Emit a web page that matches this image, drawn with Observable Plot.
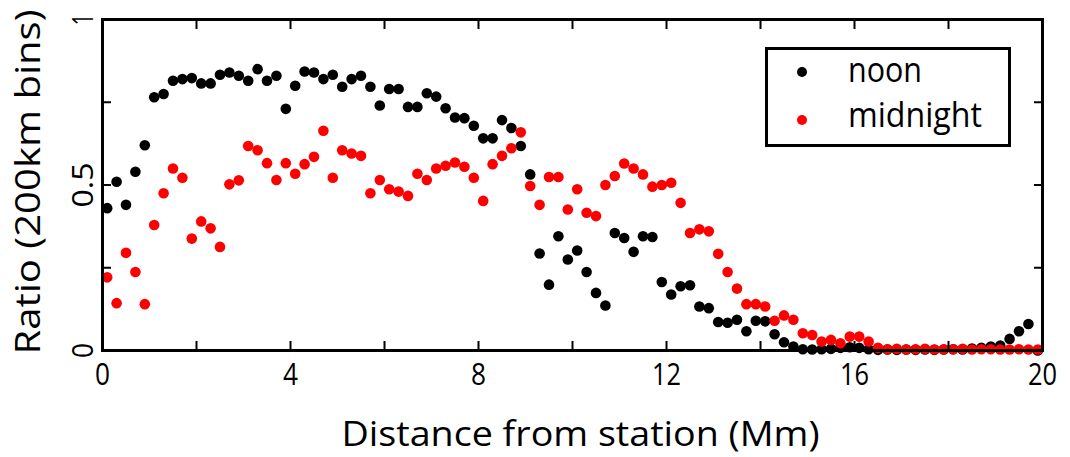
<!DOCTYPE html>
<html><head><meta charset="utf-8">
<script src="https://cdn.jsdelivr.net/npm/d3@7"></script>
<script src="https://cdn.jsdelivr.net/npm/@observablehq/plot@0.6"></script>
<style>
body{margin:0;background:#fff;}
#wrap{position:relative;width:1070px;height:457px;overflow:hidden;}
#legend{position:absolute;left:760px;top:42px;}
</style></head><body>
<div id="wrap"></div>
<script>
// bin centres (Mm), 200 km bins
const distanceMm = [
  0.1,0.3,0.5,0.7,0.9,1.1,1.3,1.5,1.7,1.9,
  2.1,2.3,2.5,2.7,2.9,3.1,3.3,3.5,3.7,3.9,
  4.1,4.3,4.5,4.7,4.9,5.1,5.3,5.5,5.7,5.9,
  6.1,6.3,6.5,6.7,6.9,7.1,7.3,7.5,7.7,7.9,
  8.1,8.3,8.5,8.7,8.9,9.1,9.3,9.5,9.7,9.9,
  10.1,10.3,10.5,10.7,10.9,11.1,11.3,11.5,11.7,11.9,
  12.1,12.3,12.5,12.7,12.9,13.1,13.3,13.5,13.7,13.9,
  14.1,14.3,14.5,14.7,14.9,15.1,15.3,15.5,15.7,15.9,
  16.1,16.3,16.5,16.7,16.9,17.1,17.3,17.5,17.7,17.9,
  18.1,18.3,18.5,18.7,18.9,19.1,19.3,19.5,19.7,19.9
];
const noonRatio = [
  0.43,0.51,0.44,0.54,0.62,0.765,0.775,0.815,0.82,0.823,
  0.807,0.807,0.833,0.84,0.83,0.815,0.85,0.815,0.83,0.73,
  0.80,0.843,0.84,0.82,0.833,0.797,0.82,0.83,0.797,0.74,
  0.79,0.79,0.736,0.736,0.777,0.767,0.732,0.704,0.702,0.679,
  0.641,0.641,0.696,0.672,0.618,0.532,0.293,0.199,0.345,0.275,
  0.302,0.237,0.174,0.136,0.355,0.34,0.298,0.345,0.343,0.207,
  0.169,0.194,0.197,0.133,0.128,0.086,0.084,0.093,0.058,0.09,
  0.088,0.049,0.025,0.012,0.004,0.003,0.004,0.005,0.008,0.01,
  0.008,0.004,0.002,0.003,0.002,0.003,0.002,0.003,0.002,0.003,
  0.004,0.003,0.006,0.008,0.012,0.015,0.035,0.058,0.08,0.0
];
const midnightRatio = [
  0.221,0.143,0.295,0.237,0.14,0.379,0.475,0.55,0.522,0.338,
  0.39,0.369,0.313,0.502,0.514,0.618,0.605,0.566,0.515,0.566,
  0.534,0.563,0.585,0.664,0.522,0.605,0.595,0.588,0.475,0.515,
  0.487,0.48,0.467,0.534,0.515,0.55,0.558,0.568,0.555,0.522,
  0.452,0.563,0.588,0.611,0.659,0.497,0.44,0.524,0.524,0.426,
  0.487,0.416,0.406,0.5,0.527,0.565,0.55,0.532,0.495,0.5,
  0.507,0.446,0.355,0.366,0.36,0.292,0.237,0.187,0.14,0.14,
  0.133,0.09,0.106,0.093,0.052,0.047,0.027,0.032,0.022,0.042,
  0.042,0.027,0.008,0.004,0.005,0.003,0.004,0.005,0.003,0.004,
  0.004,0.005,0.003,0.004,0.004,0.003,0.003,0.004,0.003,0.003
];
const seriesNames = ["noon","midnight"];
const seriesColors = ["#000000","#ff0000"];
const xTickMarks = [0,2,4,6,8,10,12,14,16,18,20];
const xTickLabels = [0,4,8,12,16,20];
const yTickMarks = [0,0.25,0.5,0.75,1];
const yTickLabels = [0,0.5,1];
const xTitle = "Distance from station (Mm)";
const yTitle = "Ratio (200km bins)";

const rows = [];
seriesNames.forEach((s, i) => {
  const vals = i === 0 ? noonRatio : midnightRatio;
  distanceMm.forEach((d, j) => rows.push({series: s, distance: d, ratio: vals[j]}));
});

const font = "'Open Sans', 'DejaVu Sans', sans-serif";
const chart = Plot.plot({
  width: 1070, height: 457,
  marginLeft: 102, marginRight: 28, marginTop: 19, marginBottom: 107,
  style: {fontFamily: font, background: "#fff", color: "#000"},
  x: {domain: [0, 20]},
  y: {domain: [0, 1]},
  color: {domain: seriesNames, range: seriesColors},
  marks: [
    Plot.dot(rows, {x: "distance", y: "ratio", fill: "series", r: 5.3, stroke: null}),
    Plot.frame({stroke: "#000", strokeWidth: 3}),
    Plot.axisX({ticks: xTickMarks, tickSize: -9, text: null, label: null, strokeWidth: 2}),
    Plot.axisX({anchor: "top", ticks: xTickMarks, tickSize: -9, text: null, label: null, strokeWidth: 2}),
    Plot.axisY({ticks: yTickMarks, tickSize: -9, text: null, label: null, strokeWidth: 2}),
    Plot.axisY({anchor: "right", ticks: yTickMarks, tickSize: -9, text: null, label: null, strokeWidth: 2}),
    Plot.axisX({ticks: xTickLabels, tickSize: 0, tickPadding: 12, fontSize: 31, label: null, tickFormat: d => String(d)}),
    Plot.axisY({ticks: yTickLabels, tickSize: 0, tickPadding: 10, tickRotate: -90, fontSize: 29, label: null, tickFormat: d => String(d)}),
    Plot.text([xTitle], {text: d => d, frameAnchor: "bottom", textAnchor: "middle", dx: 8, dy: 85, fontSize: 34, lineAnchor: "middle"}),
    Plot.text([yTitle], {text: d => d, frameAnchor: "left", textAnchor: "middle", rotate: -90, dx: -74, dy: -3, fontSize: 35, lineAnchor: "middle"})
  ]
});

// compress text horizontally like the original narrow typeface
const fixedLen = {"0": 15, "4": 15, "8": 15, "12": 29, "16": 29, "20": 29, "0.5": 45, "1": 12};
fixedLen[xTitle] = 478;
fixedLen[yTitle] = 345;
d3.select(chart).selectAll("text").each(function() {
  const len = fixedLen[this.textContent];
  if (len) { this.setAttribute("textLength", len); this.setAttribute("lengthAdjust", "spacingAndGlyphs"); }
});

const wrap = document.getElementById("wrap");
wrap.appendChild(chart);

// legend box
const leg = d3.create("svg").attr("id", "legend").attr("width", 260).attr("height", 110)
  .style("font-family", font);
leg.append("rect").attr("x", 6.5).attr("y", 6.5).attr("width", 243).attr("height", 97)
  .attr("fill", "#fff").attr("stroke", "#000").attr("stroke-width", 3);
const legRows = [
  {name: seriesNames[0], color: seriesColors[0], cy: 30, base: 40, len: 74},
  {name: seriesNames[1], color: seriesColors[1], cy: 78, base: 85, len: 134}
];
legRows.forEach(r => {
  leg.append("circle").attr("cx", 42).attr("cy", r.cy).attr("r", 5).attr("fill", r.color);
  leg.append("text").attr("x", 88).attr("y", r.base).attr("font-size", 34)
    .attr("textLength", r.len).attr("lengthAdjust", "spacingAndGlyphs").text(r.name);
});
wrap.appendChild(leg.node());
</script>
</body></html>
